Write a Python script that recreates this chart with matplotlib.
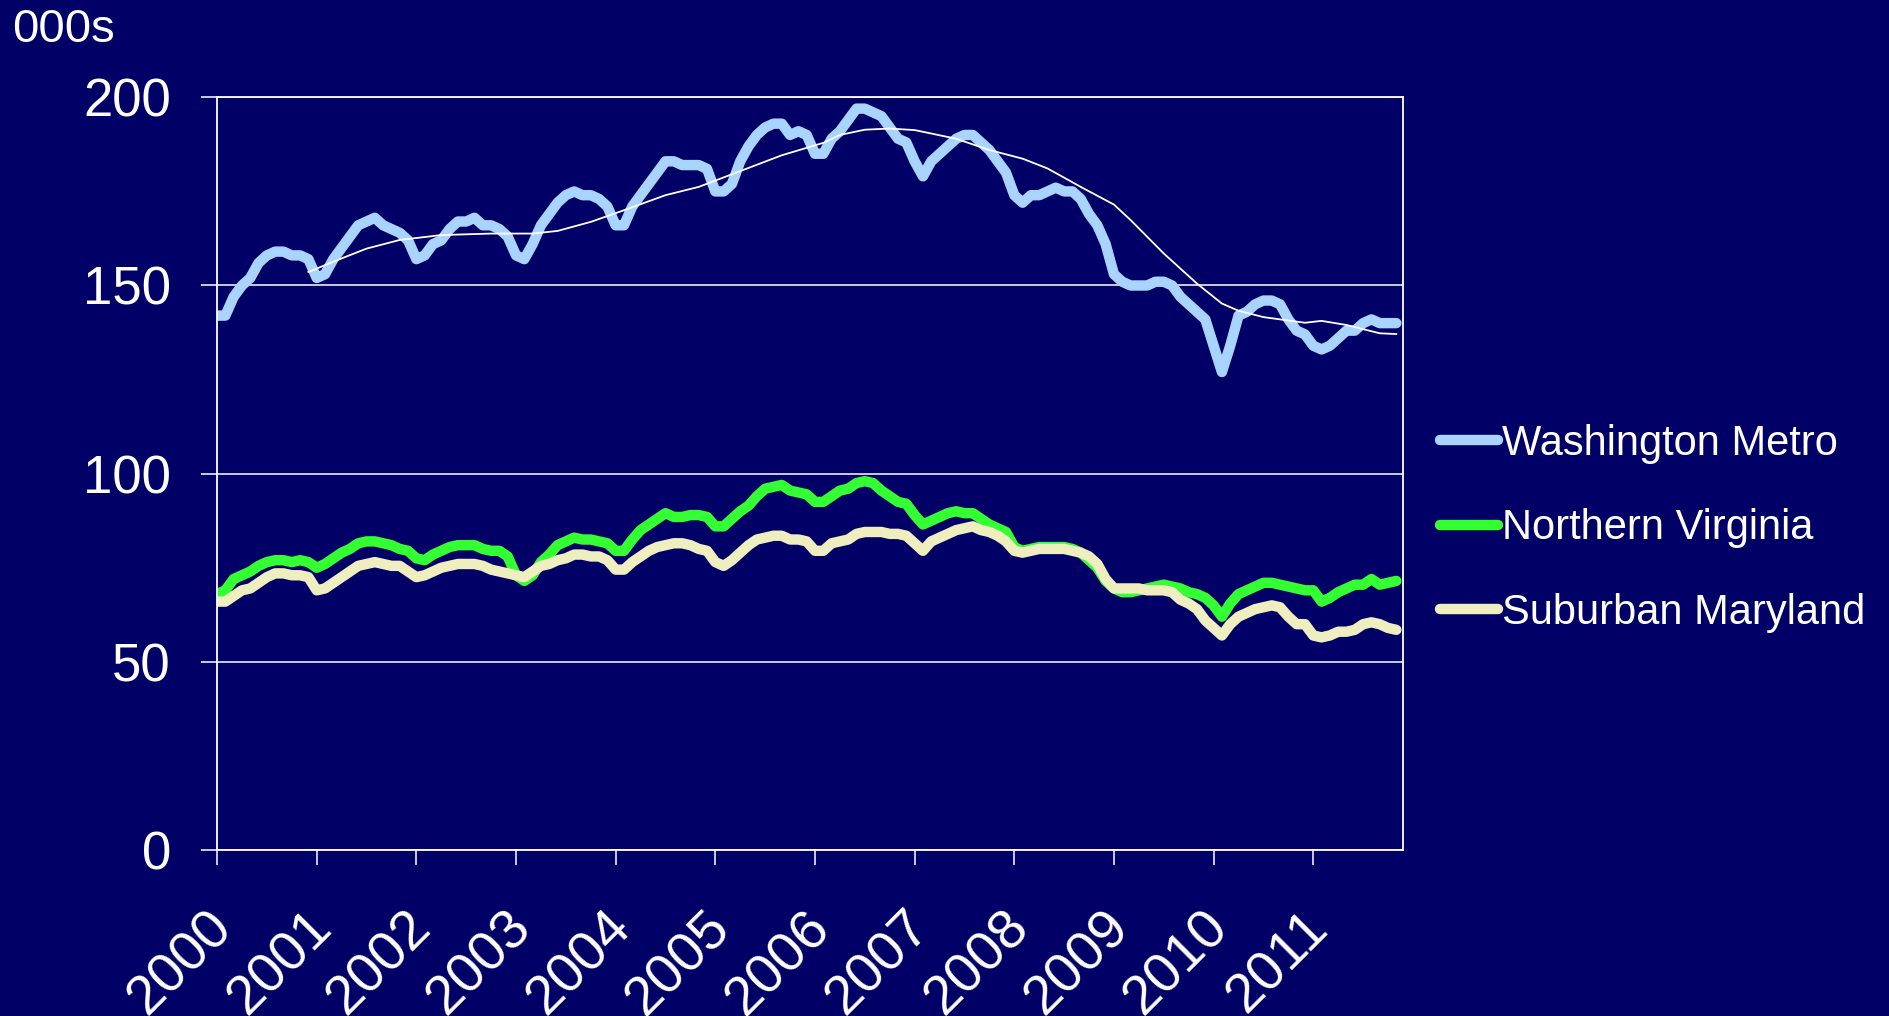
import numpy as np
import matplotlib
matplotlib.use("Agg")
import matplotlib.pyplot as plt
from matplotlib.transforms import ScaledTranslation

plt.rcParams["font.family"] = ["Liberation Sans", "DejaVu Sans"]

# monthly values, Jan 2000 .. Nov 2011, thousands
washington_metro = [
    142, 142, 147, 150, 152, 156, 158, 159, 159, 158, 158, 157,
    152, 153, 157, 160, 163, 166, 167, 168, 166, 165, 164, 162,
    157, 158, 161, 162, 165, 167, 167, 168, 166, 166, 165, 163,
    158, 157, 161, 166, 169, 172, 174, 175, 174, 174, 173, 171,
    166, 166, 171, 174, 177, 180, 183, 183, 182, 182, 182, 181,
    175, 175, 177, 183, 187, 190, 192, 193, 193, 190, 191, 190,
    185, 185, 189, 191, 194, 197, 197, 196, 195, 192, 189, 188,
    183, 179, 183, 185, 187, 189, 190, 190, 188, 186, 183, 180,
    174, 172, 174, 174, 175, 176, 175, 175, 173, 169, 166, 161,
    153, 151, 150, 150, 150, 151, 151, 150, 147, 145, 143, 141,
    134, 127, 134, 142, 143, 145, 146, 146, 145, 141, 138, 137,
    134, 133, 134, 136, 138, 138, 140, 141, 140, 140, 140,
]
northern_virginia = [
    68, 69, 72, 73, 74, 75.5, 76.5, 77, 77, 76.5, 77, 76.5,
    75, 76, 77.5, 79, 80, 81.5, 82, 82, 81.5, 81, 80, 79.5,
    77.5, 77, 78.5, 79.5, 80.5, 81, 81, 81, 80, 79.5, 79.5, 78,
    73, 71.5, 73, 76.5, 78.5, 81, 82, 83, 82.5, 82.5, 82, 81.5,
    79.5, 79.5, 82.5, 85, 86.5, 88, 89.5, 88.5, 88.5, 89, 89, 88.5,
    86, 86, 88, 90, 91.5, 94, 96, 96.5, 97, 95.5, 95, 94.5,
    92.5, 92.5, 94, 95.5, 96, 97.5, 98, 97.5, 95.5, 94, 92.5, 92,
    89, 86.5, 87.5, 88.5, 89.5, 90, 89.5, 89.5, 88, 86.5, 85.5, 84.5,
    80.5, 79.5, 80, 80.5, 80.5, 80.5, 80.5, 80, 79, 77, 75, 71.5,
    69.5, 68.5, 68.5, 69, 69.5, 70, 70.5, 70, 69.5, 68.5, 68, 67,
    65, 62, 65.5, 68, 69, 70, 71, 71, 70.5, 70, 69.5, 69,
    69, 66, 67, 68.5, 69.5, 70.5, 70.5, 72, 70.5, 71, 71.5,
]
suburban_maryland = [
    66, 66, 67.5, 69, 69.5, 71, 72.5, 73.5, 73.5, 73, 73, 72.5,
    69, 69.5, 71, 72.5, 74, 75.5, 76, 76.5, 76, 75.5, 75.5, 74,
    72.5, 73, 74, 75, 75.5, 76, 76, 76, 75.5, 74.5, 74, 73.5,
    73, 72.5, 74, 75.5, 76, 77, 77.5, 78.5, 78.5, 78, 78, 77,
    74.5, 74.5, 76.5, 78, 79.5, 80.5, 81, 81.5, 81.5, 81, 80, 79.5,
    76.5, 75.5, 77, 79, 81, 82.5, 83, 83.5, 83.5, 82.5, 82.5, 82,
    79.5, 79.5, 81.5, 82, 82.5, 84, 84.5, 84.5, 84.5, 84, 84, 83.5,
    81.5, 79.5, 82, 83, 84, 85, 85.5, 86, 85, 84.5, 83.5, 82,
    79.5, 79, 79.5, 80, 80, 80, 80, 79.5, 79, 78, 76, 72,
    69.5, 69.5, 69.5, 69.5, 69, 69, 69, 68.5, 66.5, 65.5, 64, 61,
    59, 57, 60, 62, 63, 64, 64.5, 65, 64.5, 62, 60, 60,
    57, 56.5, 57, 58, 58, 58.5, 60, 60.5, 60, 59, 58.5,
]

# 12-month trend of the metro total
trend_month = [11, 15, 18, 22, 27, 33, 38, 41, 45, 49, 54, 58, 63, 68, 73, 75,
               78, 81, 84, 89, 93, 97, 100, 104, 108, 110, 114, 118, 121, 123,
               126, 128, 131, 133, 136, 140, 142]
trend_value = [153.6, 157.2, 159.8, 162.1, 163.4, 163.8, 163.8, 164.5, 166.9,
               170.0, 174.0, 176.2, 180.4, 184.6, 187.9, 190.0, 191.4, 191.7,
               191.3, 189.0, 186.0, 183.7, 181.1, 176.2, 171.5, 167.4, 158.5,
               150.5, 145.2, 143.3, 141.6, 141.0, 140.1, 140.6, 139.5, 137.3,
               137.1]

years = [str(y) for y in range(2000, 2012)]

BG = "#000066"
months = np.arange(len(washington_metro))
year_ticks = np.arange(0, 12 * len(years), 12)

fig = plt.figure(figsize=(18.89, 10.16), dpi=100, facecolor=BG)
ax = fig.add_axes([0.1149, 0.1634, 0.6278, 0.7408], facecolor=BG)

ax.set_axisbelow(True)
ax.grid(axis="y", color="white", lw=1.1)

style = dict(lw=7.5, solid_capstyle="round", solid_joinstyle="round")
ax.plot(months, washington_metro, color="#A9D4FF", label="Washington Metro", **style)
ax.plot(trend_month, trend_value, color="white", lw=1.3)
ax.plot(months, northern_virginia, color="#33FF33", label="Northern Virginia", **style)
ax.plot(months, suburban_maryland, color="#EEEEBE", label="Suburban Maryland", **style)

ax.set_xlim(0, 142.8)
ax.set_ylim(0, 200)
ax.set_yticks([0, 50, 100, 150, 200])
ax.set_xticks(year_ticks)
ax.set_xticklabels([])

# slanted year labels, placed by hand so they sit just right of each tick
lbl_trans = ax.get_xaxis_transform() + ScaledTranslation(5 / 72, -50.5 / 72,
                                                         fig.dpi_scale_trans)
for x, yr in zip(year_ticks, years):
    ax.text(x, 0, yr, transform=lbl_trans, rotation=45, ha="right",
            va="center", rotation_mode="anchor", color="white", fontsize=40,
            clip_on=False)

for s in ax.spines.values():
    s.set_color("white")
    s.set_linewidth(1.3)

ax.tick_params(axis="y", colors="white", labelsize=38, length=11.5, width=1.1,
               pad=21.8)
ax.tick_params(axis="x", colors="white", length=10.8, width=1.1)

fig.text(0.0064, 0.9587, "000s", color="white", fontsize=34, va="baseline")

leg = fig.legend(loc="center left", bbox_to_anchor=(0.7623, 0.480),
                 frameon=False, fontsize=30, handlelength=1.39,
                 handletextpad=0.1, labelspacing=1.07, borderpad=0,
                 borderaxespad=0)
for t in leg.get_texts():
    t.set_color("white")

fig.savefig("out.png", dpi=100, facecolor=BG)
